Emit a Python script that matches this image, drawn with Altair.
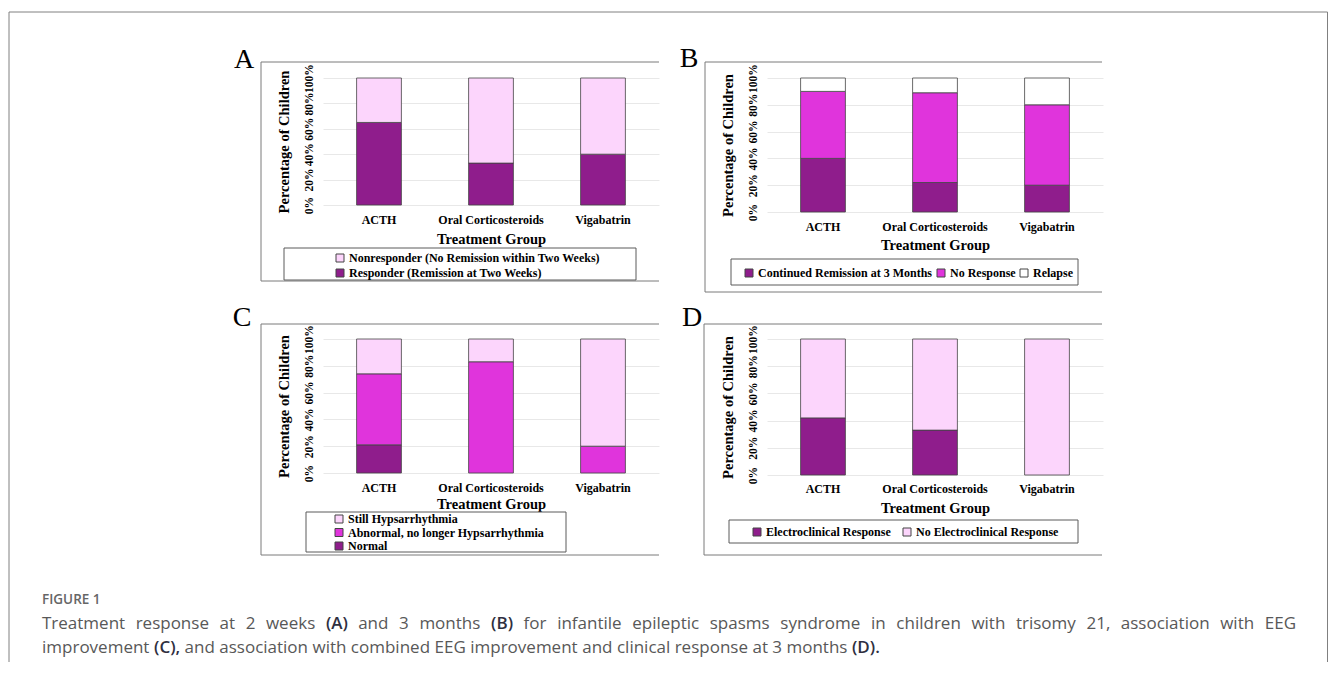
import altair as alt
import pandas as pd

# ---------------- data ----------------
groups = ["ACTH", "Oral Corticosteroids", "Vigabatrin"]
y_ticks = [0, 20, 40, 60, 80, 100]

a_cats = ["Nonresponder (No Remission within Two Weeks)", "Responder (Remission at Two Weeks)"]
a_responder = [65, 33, 40]
a_nonresponder = [35, 67, 60]

b_cats = ["Continued Remission at 3 Months", "No Response", "Relapse"]
b_remission = [40, 22, 20]
b_noresponse = [50, 67, 60]
b_relapse = [10, 11, 20]

c_cats = ["Still Hypsarrhythmia", "Abnormal, no longer Hypsarrhythmia", "Normal"]
c_normal = [21, 0, 0]
c_abnormal = [53, 83, 20]
c_still = [26, 17, 80]

d_cats = ["Electroclinical Response", "No Electroclinical Response"]
d_response = [42, 33, 0]
d_noresponse = [58, 67, 100]

caption_head = "FIGURE 1"
caption_line1 = ("Treatment response at 2 weeks (A) and 3 months (B) for infantile epileptic spasms "
                 "syndrome in children with trisomy 21, association with EEG")
caption_line2 = ("improvement (C), and association with combined EEG improvement and clinical "
                 "response at 3 months (D).")

# ---------------- styles ----------------
SERIF = "Liberation Serif"
SANS = "Open Sans"
DARK = "#8f1d8c"
MAG = "#e034dc"
PINK = "#fcd5fc"
WHITE = "#ffffff"
BOXC = "#7a7a7a"
CAP_SIZE = 17

# approximate Open Sans advance widths (em) used to lay out the justified caption
OS_W = {
    " ": 0.26, "a": 0.556, "b": 0.613, "c": 0.476, "d": 0.613, "e": 0.561, "f": 0.339,
    "g": 0.548, "h": 0.614, "i": 0.253, "j": 0.253, "k": 0.525, "l": 0.253, "m": 0.930,
    "n": 0.614, "o": 0.604, "p": 0.613, "q": 0.613, "r": 0.408, "s": 0.477, "t": 0.353,
    "u": 0.614, "v": 0.501, "w": 0.778, "x": 0.524, "y": 0.502, "z": 0.477,
    "A": 0.633, "B": 0.648, "C": 0.631, "D": 0.729, "E": 0.556, "G": 0.726, "T": 0.549,
    "(": 0.291, ")": 0.291, ",": 0.25, ".": 0.266,
}


def word_width(w, size, bold=False):
    return sum(OS_W.get(ch, 0.572) for ch in w) * size * (1.05 if bold else 1.0)


def long_df(series, names):
    rows = []
    for order, (vals, name) in enumerate(zip(series, names)):
        for g, v in zip(groups, vals):
            if v > 0:
                rows.append({"group": g, "cat": name, "pct": v, "order": order})
    return pd.DataFrame(rows)


one = pd.DataFrame({"k": [0]})


def rule(x, y, x2=None, y2=None, color=BOXC):
    enc = {"x": alt.value(x), "y": alt.value(y)}
    if x2 is not None:
        enc["x2"] = alt.value(x2)
    if y2 is not None:
        enc["y2"] = alt.value(y2)
    return alt.Chart(one).mark_rule(color=color, strokeWidth=1).encode(**enc)


def text(t, x, y, size, font, color="black", weight="normal", align="left"):
    return alt.Chart(one).mark_text(
        text=t, font=font, fontSize=size, fontWeight=weight, color=color,
        align=align, baseline="alphabetic"
    ).encode(x=alt.value(x), y=alt.value(y))


def is_label(w):
    return w.startswith("(") and len(w) > 1 and w[1] in "ABCD"


def caption_words(line, x0, y, right=None):
    words = line.split(" ")
    widths = [word_width(w, CAP_SIZE, is_label(w)) for w in words]
    if right is None:
        gap = OS_W[" "] * CAP_SIZE
    else:
        gap = (right - x0 - sum(widths)) / (len(words) - 1)
    out = []
    x = x0
    for w, wd in zip(words, widths):
        if is_label(w):
            out.append(text(w, x, y, CAP_SIZE, SANS, color="#2f2f3f", weight=600))
        else:
            out.append(text(w, x, y, CAP_SIZE, SANS, color="#585858"))
        x += wd + gap
    return out


def panel(df, domain, colors, height, legend, box, lbox, letter, lab_pad, title_y, extra=()):
    yaxis = alt.Axis(
        values=y_ticks, labelExpr="datum.value + '%'", labelAngle=270,
        labelAlign="center", labelBaseline="bottom", labelPadding=9,
        labelFont=SERIF, labelFontWeight="bold", labelFontSize=11.5, labelColor="black",
        labelOverlap=False, labelFlush=False, ticks=False, tickSize=0, domain=False,
        grid=True, gridColor="#e8e8e8", gridWidth=1,
        title="Percentage of Children", titleFont=SERIF, titleFontSize=14.5,
        titleFontWeight="bold", titleColor="black", titleAngle=270,
        titleAlign="center", titleBaseline="middle", titleX=-39, titleY=height / 2,
    )
    xaxis = alt.Axis(
        labelFont=SERIF, labelFontWeight="bold", labelFontSize=12, labelColor="black",
        labelPadding=lab_pad, labelAngle=0, ticks=False, domain=False,
        title="Treatment Group", titleFont=SERIF, titleFontSize=14.5, titleFontWeight="bold",
        titleColor="black", titleBaseline="alphabetic", titleY=title_y, titleAlign="center",
    )
    bars = alt.Chart(df).mark_bar(stroke="#444444", strokeWidth=0.8).encode(
        x=alt.X("group:N", sort=groups, axis=xaxis,
                scale=alt.Scale(paddingInner=0.6, paddingOuter=0.3)),
        y=alt.Y("pct:Q", stack="zero", axis=yaxis,
                scale=alt.Scale(domain=[0, 100], nice=False)),
        color=alt.Color("cat:N", scale=alt.Scale(domain=domain, range=colors),
                        legend=legend),
        order=alt.Order("order:Q", sort="ascending"),
    )
    bl, bt, br, bb = box
    layers = [
        bars,
        rule(bl, bt, y2=bb),
        rule(bl, bt, x2=br),
        rule(bl, bb, x2=br),
        alt.Chart(one).mark_rect(fillOpacity=0, stroke="#5a5a5a", strokeWidth=1).encode(
            x=alt.value(lbox[0]), x2=alt.value(lbox[1]),
            y=alt.value(lbox[2]), y2=alt.value(lbox[3])),
        text(letter[0], letter[1], letter[2], 28, SERIF, align="center"),
    ]
    layers += list(extra)
    return alt.layer(*layers).properties(width=336, height=height)


def legend(x, y, horizontal=False, cols=1, row_pad=3, col_pad=14):
    kw = dict(
        orient="none", legendX=x, legendY=y, title=None, symbolType="square",
        symbolSize=64, symbolStrokeColor="#444444", symbolStrokeWidth=1,
        labelFont=SERIF, labelFontWeight="bold", labelFontSize=12, labelColor="black",
        labelLimit=500, padding=0, labelOffset=3, rowPadding=row_pad,
        columnPadding=col_pad, columns=cols,
        direction="horizontal" if horizontal else "vertical",
    )
    return alt.Legend(**kw)


dfA = long_df([a_responder, a_nonresponder], [a_cats[1], a_cats[0]])
dfB = long_df([b_remission, b_noresponse, b_relapse], b_cats)
dfC = long_df([c_normal, c_abnormal, c_still], [c_cats[2], c_cats[1], c_cats[0]])
dfD = long_df([d_response, d_noresponse], d_cats)

pA = panel(dfA, a_cats, [PINK, DARK], 127, legend(11, 174, row_pad=3),
           (-62, -16, 336, 203), (-39, 313, 170, 202), ("A", -79, -10), 9, 38)
pB = panel(dfB, b_cats, [DARK, MAG, WHITE], 134, legend(-24, 189, True, 3, col_pad=2),
           (-62, -16, 335, 214), (-36, 311, 181, 207), ("B", -78, -11), 9, 37)

caption = [
    rule(-314, -327, y2=323, color="#808080"),
    rule(-314, -327, x2=1004.5, color="#808080"),
    rule(1004.5, -327, y2=323, color="#808080"),
    text(caption_head, -281, 265, 13.5, SANS, color="#666666", weight=600),
]
caption += caption_words(caption_line1, -281, 290, right=973)
caption += caption_words(caption_line2, -281, 314)

pC = panel(dfC, c_cats, [PINK, MAG, DARK], 134, legend(10, 174, row_pad=1.5),
           (-62, -15, 336, 216), (-17, 243, 173, 213), ("C", -81, -13), 9, 35, caption)
pD = panel(dfD, d_cats, [DARK, PINK], 136, legend(-16, 187, True, 2, col_pad=10),
           (-63, -15, 335, 216), (-38, 311, 181, 204), ("D", -75, -13), 8, 37)

chart = alt.concat(
    pA, pB, pC, pD, columns=2, spacing={"row": 127, "column": 108}, bounds="flush"
).resolve_scale(
    color="independent", x="independent", y="independent"
).resolve_legend(color="independent").properties(
    padding={"left": 0, "top": 3, "right": 0, "bottom": 0}, background="white"
).configure_view(strokeWidth=0)

chart.save("out.html", embed_options={"renderer": "svg", "actions": False})
